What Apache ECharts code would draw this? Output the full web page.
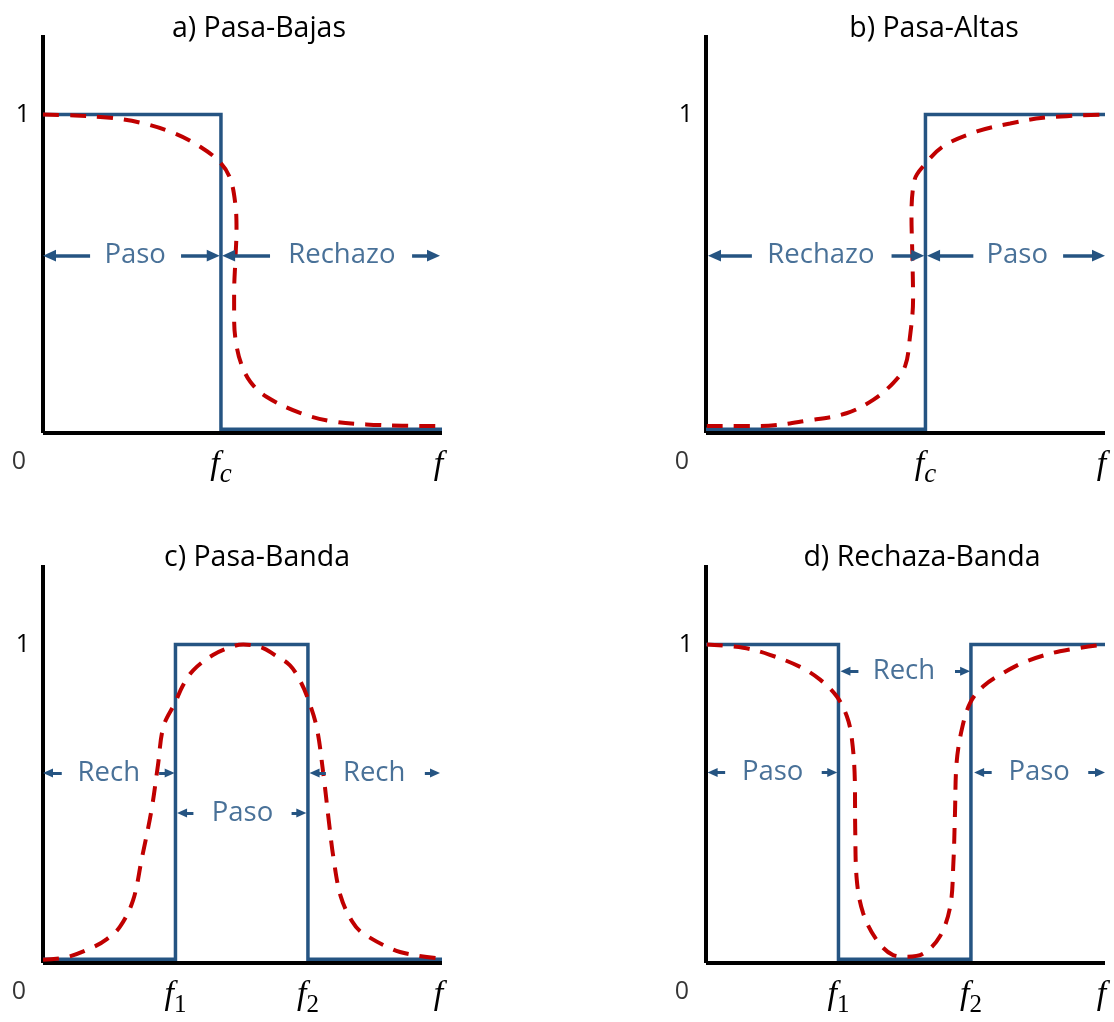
<!DOCTYPE html>
<html>
<head>
<meta charset="utf-8">
<script src="https://cdn.jsdelivr.net/npm/echarts@6/dist/echarts.min.js"></script>
<style>
  html, body { margin: 0; padding: 0; background: #fff; }
  #chart { width: 1114px; height: 1022px; }
</style>
</head>
<body>
<div id="chart"></div>
<script>
// Frequency runs 0..100 across each panel, gain 0..1.25
const panelTitles = ['a) Pasa-Bajas', 'b) Pasa-Altas', 'c) Pasa-Banda', 'd) Rechaza-Banda'];

const fcLow = 44.6;
const fcHigh = 55.0;
const f1 = 33.2;
const f2 = 66.4;
const floorLevel = 0.012;

// Ideal (brick-wall) responses
const idealLowPass  = [[0, 1], [fcLow, 1], [fcLow, floorLevel], [100, floorLevel]];
const idealHighPass = [[0, floorLevel], [fcHigh, floorLevel], [fcHigh, 1], [100, 1]];
const idealBandPass = [[0, floorLevel], [f1, floorLevel], [f1, 1], [f2, 1], [f2, floorLevel], [100, floorLevel]];
const idealBandStop = [[0, 1], [f1, 1], [f1, floorLevel], [f2, floorLevel], [f2, 1], [100, 1]];

// Real responses
const realLowPass = [
  [0, 1.0], [8, 0.997], [16.8, 0.99], [24.3, 0.975], [32.6, 0.943], [39.3, 0.90], [44.4, 0.85],
  [46.9, 0.80], [48.2, 0.72], [48.5, 0.64], [48.2, 0.54], [47.9, 0.44], [47.9, 0.36], [48.3, 0.29],
  [49.6, 0.22], [52.0, 0.16], [56.0, 0.114], [64.4, 0.063], [72.7, 0.036], [81.0, 0.027],
  [90.0, 0.023], [99.5, 0.022]
];
const realHighPass = [
  [0.2, 0.022], [13.5, 0.022], [26.0, 0.04], [35.2, 0.062], [41.9, 0.104], [46.9, 0.157],
  [49.9, 0.21], [51.1, 0.30], [51.9, 0.42], [51.7, 0.566], [51.5, 0.68], [52.3, 0.796],
  [54.4, 0.837], [59.4, 0.90], [67.9, 0.947], [76.2, 0.972], [84.5, 0.99], [99.5, 1.0]
];
const realBandPass = [
  [0, 0.01], [5.9, 0.018], [12.6, 0.05], [16.0, 0.075], [19.3, 0.114], [22.6, 0.198], [24.7, 0.324],
  [27.2, 0.481], [28.8, 0.62], [30.2, 0.743], [33.1, 0.817], [35.0, 0.87], [37.7, 0.92], [42.7, 0.968],
  [47.7, 0.995], [50.2, 1.0], [55.0, 0.99], [58.0, 0.968], [61.9, 0.935], [64.5, 0.885], [66.4, 0.83],
  [68.6, 0.74], [70.2, 0.60], [71.6, 0.45], [72.8, 0.33], [74.6, 0.21], [77.5, 0.13], [80.0, 0.095],
  [87.8, 0.042], [93.0, 0.025], [98.7, 0.015]
];
const realBandStop = [
  [0.2, 1.0], [9.3, 0.99], [16.0, 0.968], [23.6, 0.93], [28.6, 0.89], [32.8, 0.837], [35.3, 0.775],
  [36.5, 0.71], [37.3, 0.575], [37.4, 0.418], [37.8, 0.26], [39.4, 0.156], [42.8, 0.072], [46.9, 0.025],
  [50.3, 0.02], [54.5, 0.03], [58.6, 0.083], [61.2, 0.177], [62.0, 0.314], [62.4, 0.47], [62.8, 0.628],
  [64.1, 0.733], [66.2, 0.817], [69.5, 0.869], [74.5, 0.911], [80.4, 0.948], [88.7, 0.979], [99.6, 1.0]
];

// Band annotations: [tailX, tipX]
const arrowsLowPass  = [[11.8, 0], [34.6, 44.3], [56.9, 44.9], [92.5, 99.5]];
const arrowsHighPass = [[11.5, 0.5], [46.5, 54.7], [67.0, 55.4], [89.5, 100]];
const arrowsBandPass = [[4.7, 0], [29.1, 33.0], [70.9, 66.8], [95.7, 99.5], [37.7, 33.6], [62.3, 66.0]];
const arrowsBandStop = [[38.2, 33.7], [62.4, 66.2], [4.8, 0.4], [29.0, 32.9], [71.6, 67.2], [95.8, 100]];
const arrowRowsLowPass  = [0.557, 0.557, 0.557, 0.557];
const arrowRowsHighPass = [0.557, 0.557, 0.557, 0.557];
const arrowRowsBandPass = [0.597, 0.597, 0.597, 0.597, 0.471, 0.471];
const arrowRowsBandStop = [0.916, 0.916, 0.598, 0.598, 0.598, 0.598];

// Band names: [x, gain, text]
const labelsLowPass  = [[23.1, 0.557, 'Paso'], [74.9, 0.557, 'Rechazo']];
const labelsHighPass = [[28.8, 0.557, 'Rechazo'], [78.0, 0.557, 'Paso']];
const labelsBandPass = [[16.5, 0.597, 'Rech'], [83.0, 0.597, 'Rech'], [50.0, 0.471, 'Paso']];
const labelsBandStop = [[49.6, 0.916, 'Rech'], [16.7, 0.598, 'Paso'], [83.5, 0.598, 'Paso']];

// Axis tick labels
const xTickValues = [[fcLow, 100], [fcHigh, 100], [f1, f2, 100], [f1, f2, 100]];
const xTickNames  = [['c', ''], ['c', ''], ['1', '2', ''], ['1', '2', '']];
const yTickValues = [1];
const yTickNames  = ['1'];
const originName  = '0';

const ideal  = [idealLowPass, idealHighPass, idealBandPass, idealBandStop];
const real   = [realLowPass, realHighPass, realBandPass, realBandStop];
const arrows = [arrowsLowPass, arrowsHighPass, arrowsBandPass, arrowsBandStop];
const arrowRows = [arrowRowsLowPass, arrowRowsHighPass, arrowRowsBandPass, arrowRowsBandStop];
const labels = [labelsLowPass, labelsHighPass, labelsBandPass, labelsBandStop];

// Layout
const BLUE = '#255482';
const TEXT_BLUE = '#1c4e7e';
const RED = '#c00000';
const gridBoxes = [
  { left: 43,  top: 35 },
  { left: 706, top: 35 },
  { left: 43,  top: 565 },
  { left: 706, top: 565 }
];
const GW = 399, GH = 398;
const titleCenters = [[259, 14], [934, 14], [257, 543], [922, 543]];
const headSize = [13, 13, 10, 10];
const arrowWidth = [3.5, 3.5, 3, 3];

const option = {
  animation: false,
  backgroundColor: '#ffffff',
  title: panelTitles.map((t, i) => ({
    text: t,
    left: titleCenters[i][0],
    top: titleCenters[i][1],
    textAlign: 'center',
    padding: 0,
    textStyle: { fontFamily: 'Open Sans', fontSize: 28.5, fontWeight: 'normal', color: '#000' }
  })),
  grid: gridBoxes.map(g => ({
    left: g.left, top: g.top, width: GW, height: GH,
    containLabel: false, outerBoundsMode: 'none'
  })),
  xAxis: gridBoxes.map((g, i) => ({
    type: 'value', gridIndex: i, min: 0, max: 100, interval: 20,
    axisLine: { show: true, onZero: false, lineStyle: { color: '#000', width: 4, cap: 'butt' } },
    axisTick: { show: false },
    splitLine: { show: false },
    axisLabel: {
      show: true,
      customValues: xTickValues[i],
      margin: 19,
      formatter: (v) => {
        const k = xTickValues[i].indexOf(v);
        const sub = k >= 0 ? xTickNames[i][k] : '';
        if (!sub) return '{g|f}';
        return '{f|f}{' + (/[0-9]/.test(sub) ? 'n' : 's') + '|' + sub + '}';
      },
      rich: {
        f: { fontFamily: 'Liberation Serif', fontStyle: 'italic', fontSize: 34, lineHeight: 36, verticalAlign: 'bottom', color: '#000', padding: [0, 0, 6, 0] },
        g: { fontFamily: 'Liberation Serif', fontStyle: 'italic', fontSize: 34, lineHeight: 36, verticalAlign: 'bottom', color: '#000', padding: [0, 7, 6, 0] },
        s: { fontFamily: 'Liberation Serif', fontStyle: 'italic', fontSize: 27, lineHeight: 20, verticalAlign: 'bottom', color: '#000' },
        n: { fontFamily: 'Liberation Serif', fontSize: 25, lineHeight: 20, verticalAlign: 'bottom', color: '#000' }
      }
    }
  })),
  yAxis: gridBoxes.map((g, i) => ({
    type: 'value', gridIndex: i, min: 0, max: 1.25, interval: 0.25,
    axisLine: { show: true, onZero: false, lineStyle: { color: '#000', width: 4, cap: 'butt' } },
    axisTick: { show: false },
    splitLine: { show: false },
    axisLabel: {
      show: true,
      customValues: yTickValues,
      margin: 13,
      formatter: (v) => yTickNames[yTickValues.indexOf(v)] || '',
      fontFamily: 'Open Sans', fontSize: 25, color: '#000'
    }
  })),
  series: []
};

for (let i = 0; i < 4; i++) {
  // ideal response
  option.series.push({
    type: 'line', xAxisIndex: i, yAxisIndex: i, data: ideal[i],
    showSymbol: false, silent: true, z: 3,
    lineStyle: { color: BLUE, width: 3.5, join: 'miter', cap: 'butt' }
  });
  // real response
  option.series.push({
    type: 'line', xAxisIndex: i, yAxisIndex: i, data: real[i],
    showSymbol: false, silent: true, smooth: 0.35, z: 4,
    lineStyle: { color: RED, width: 4, type: [16, 11], cap: 'butt' }
  });
  // band names and arrows
  const pxPerUnit = GW / 100;
  const half = headSize[i] / 2 / pxPerUnit;
  option.series.push({
    type: 'scatter', xAxisIndex: i, yAxisIndex: i, silent: true, z: 5,
    symbolSize: 0,
    itemStyle: { color: 'transparent' },
    data: labels[i].map(l => ({ value: [l[0], l[1]], name: l[2] })),
    label: {
      show: true, position: 'inside', formatter: p => p.name,
      fontFamily: 'Open Sans', fontSize: 27.5, color: TEXT_BLUE
    },
    markLine: {
      silent: true, animation: false,
      symbol: ['none', 'triangle'],
      symbolSize: [headSize[i] * 0.9, headSize[i]],
      label: { show: false },
      emphasis: { disabled: true },
      lineStyle: { color: BLUE, width: arrowWidth[i], type: 'solid', opacity: 1 },
      data: arrows[i].map((a, k) => {
        const dir = a[1] > a[0] ? 1 : -1;
        return [
          { coord: [a[0], arrowRows[i][k]] },
          { coord: [a[1] - dir * half, arrowRows[i][k]] }
        ];
      })
    }
  });
  // origin label
  option.series.push({
    type: 'scatter', xAxisIndex: i, yAxisIndex: i, silent: true, z: 5,
    symbolSize: 0, itemStyle: { color: 'transparent' },
    data: [[0, 0]],
    label: {
      show: true, position: 'inside', offset: [-24, 29], formatter: originName,
      fontFamily: 'Open Sans', fontSize: 25, color: '#000'
    }
  });
}

const chart = echarts.init(document.getElementById('chart'), null, { renderer: 'canvas' });
chart.setOption(option);
</script>
</body>
</html>
